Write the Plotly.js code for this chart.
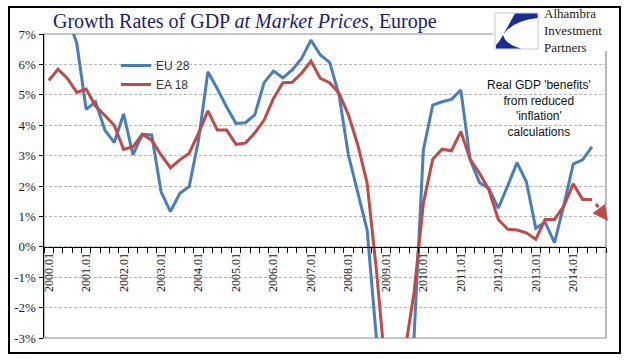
<!DOCTYPE html>
<html>
<head>
<meta charset="utf-8">
<script src="https://cdn.plot.ly/plotly-3.0.1.min.js"></script>
<style>html,body{margin:0;padding:0;background:#fff;}#chart{width:641px;height:361px;}</style>
</head>
<body>
<div id="chart"></div>
<script>
// ---- data (quarterly, 2000.01 .. 2014.04) ----
var years = ["2000","2001","2002","2003","2004","2005","2006","2007","2008","2009","2010","2011","2012","2013","2014"];
var quarters = ["01","02","03","04"];
var eu28 = [8.3, 8.0, 7.6, 6.69, 4.52, 4.77, 3.84, 3.43, 4.37, 3.02,
            3.70, 3.68, 1.81, 1.16, 1.76, 1.98, 3.51, 5.76, 5.2, 4.6,
            4.06, 4.08, 4.34, 5.40, 5.78, 5.56, 5.82, 6.2, 6.80, 6.31,
            6.07, 4.99, 3.02, 1.81, 0.55, -3.05, -6.5, -7.5, -6.0, -3.0,
            3.18, 4.66, 4.77, 4.85, 5.16, 2.86, 2.11, 1.92, 1.27, 2.0,
            2.77, 2.14, 0.61, 0.81, 0.14, 1.37, 2.72, 2.86, 3.29, null];
var ea18 = [5.47, 5.84, 5.54, 5.08, 5.19, 4.63, 4.32, 4.0, 3.2, 3.29,
            3.7, 3.51, 3.02, 2.6, 2.86, 3.08, 3.74, 4.47, 3.84, 3.84,
            3.37, 3.41, 3.74, 4.17, 4.88, 5.40, 5.41, 5.71, 6.11, 5.54,
            5.40, 5.05, 4.34, 3.35, 2.09, -0.8, -4.2, -4.8, -3.5, -1.52,
            1.43, 2.88, 3.21, 3.16, 3.79, 2.88, 2.42, 1.87, 0.90, 0.58,
            0.55, 0.46, 0.25, 0.9, 0.9, 1.34, 2.07, 1.56, 1.56, null];
var yTickVals = [-3, -2, -1, 0, 1, 2, 3, 4, 5, 6, 7];
var yTickText = ["-3%", "-2%", "-1%", "0%", "1%", "2%", "3%", "4%", "5%", "6%", "7%"];
var seriesNames = ["EU 28", "EA 18"];
var noteText = "Real GDP 'benefits'<br>from reduced<br>'inflation'<br>calculations";
var logoLines = ["Alhambra", "Investment", "Partners"];

// ---- build categories ----
var cats = [];
years.forEach(function (y) { quarters.forEach(function (q) { cats.push(y + "." + q); }); });
var xIdx = cats.map(function (c, i) { return i; });
var majorVals = [], majorText = [];
cats.forEach(function (c, i) { if (c.slice(-2) === "01") { majorVals.push(i); majorText.push(c); } });
var minorVals = [];
for (var k = 0; k <= cats.length; k++) minorVals.push(k - 0.5);

// ---- geometry helpers (pixel -> paper) ----
var W = 641, H = 361, L = 44, R = 35, T = 34, B = 23;
var pw = W - L - R, ph = H - T - B;
function PX(px) { return (px - L) / pw; }
function PY(py) { return (H - B - py) / ph; }

var blue = "#4a7ebb", red = "#be4b48";
var serif = "Liberation Serif, Times New Roman, serif";
var sans = "Liberation Sans, Arial, sans-serif";

var traces = [
  {x: xIdx, y: eu28, name: seriesNames[0], type: "scatter", mode: "lines",
   line: {color: blue, width: 3}},
  {x: xIdx, y: ea18, name: seriesNames[1], type: "scatter", mode: "lines",
   line: {color: red, width: 3}}
];

var shapes = [
  // plot-area frame (grey)
  {type: "rect", xref: "paper", yref: "paper", x0: 0, x1: 1, y0: 0, y1: 1,
   line: {color: "#8c8c8c", width: 1.2}, layer: "between"},
  // white area behind the logo
  {type: "rect", xref: "paper", yref: "paper", x0: PX(493), x1: PX(619), y0: PY(51), y1: PY(8.5),
   fillcolor: "#ffffff", line: {width: 0}, layer: "above"},
  // logo box
  {type: "rect", xref: "paper", yref: "paper", x0: PX(495), x1: PX(538), y0: PY(49), y1: PY(13),
   fillcolor: "#ffffff", line: {color: "#c8c8c8", width: 1}, layer: "above"},
  {type: "path", xref: "paper", yref: "paper", layer: "above", fillcolor: "#1b2a96", line: {width: 0},
   path: "M " + PX(515) + "," + PY(13.5) + " L " + PX(537.5) + "," + PY(13.5) + " L " + PX(537.5) + "," + PY(18) +
         " Q " + PX(512) + "," + PY(21) + " " + PX(503) + "," + PY(35) + " Z"},
  {type: "path", xref: "paper", yref: "paper", layer: "above", fillcolor: "#1b2a96", line: {width: 0},
   path: "M " + PX(503) + "," + PY(35) + " Q " + PX(506) + "," + PY(45) + " " + PX(521) + "," + PY(48.5) +
         " L " + PX(496) + "," + PY(48.5) + " L " + PX(496) + "," + PY(45) + " Q " + PX(500) + "," + PY(41) + " " + PX(503) + "," + PY(35) + " Z"},
  // dashed continuation arrow (drawn on chart)
  {type: "line", xref: "paper", yref: "paper", x0: PX(596), y0: PY(204), x1: PX(604), y1: PY(215),
   line: {color: red, width: 3, dash: "4px,3px"}, layer: "above"},
  // outer frame (black)
  {type: "rect", xref: "paper", yref: "paper", x0: PX(9), x1: PX(620), y0: PY(353), y1: PY(7),
   line: {color: "#000000", width: 2}, layer: "above"}
];

var annotations = [
  {xref: "paper", yref: "paper", x: PX(539), y: PY(108), text: noteText, showarrow: false,
   font: {family: sans, size: 12, color: "#111111"}, align: "center", xanchor: "center", yanchor: "middle"},
  {xref: "paper", yref: "paper", x: PX(608), y: PY(221), ax: -6, ay: -8, text: "", showarrow: true,
   arrowhead: 2, arrowsize: 1.4, arrowwidth: 2.2, arrowcolor: red, standoff: 0},
  {xref: "paper", yref: "paper", x: PX(542), y: PY(31), text: logoLines.join("<br>"), showarrow: false,
   xanchor: "left", yanchor: "middle", align: "left", font: {family: serif, size: 13, color: "#222222"}}
];

var layout = {
  width: W, height: H,
  margin: {l: L, r: R, t: T, b: B, pad: 0},
  paper_bgcolor: "#ffffff", plot_bgcolor: "#ffffff",
  title: {text: "Growth Rates of GDP <i>at Market Prices</i>, Europe",
          x: 53 / W, xanchor: "left", xref: "container",
          y: 1 - 21 / H, yanchor: "middle", yref: "container",
          font: {family: serif, size: 20, color: "#1d1d6e"}},
  showlegend: true,
  legend: {x: PX(116), y: PY(51), xanchor: "left", yanchor: "top", bgcolor: "rgba(0,0,0,0)",
           font: {family: sans, size: 12, color: "#333333"}, tracegroupgap: 0, itemwidth: 30},
  xaxis: {range: [-0.5, cats.length - 0.5], anchor: "free", position: 3 / 10,
          showline: true, linecolor: "#000000", linewidth: 1.5,
          tickmode: "array", tickvals: majorVals, ticktext: majorText, ticks: "", tickangle: -90,
          tickfont: {family: serif, size: 12, color: "#222222"},
          minor: {tickmode: "array", tickvals: minorVals, ticks: "outside", ticklen: 5, tickwidth: 1, tickcolor: "#000000", showgrid: false},
          showgrid: false, zeroline: false, fixedrange: true},
  yaxis: {range: [-3, 7], tickmode: "array", tickvals: yTickVals, ticktext: yTickText,
          ticks: "outside", ticklen: 4, tickwidth: 1, tickcolor: "#000000",
          showline: true, linecolor: "#000000", linewidth: 1.5,
          showgrid: true, gridcolor: "#b8b8b8", gridwidth: 1, griddash: "3px,2px",
          zeroline: false, tickfont: {family: serif, size: 13, color: "#222222"}, fixedrange: true},
  shapes: shapes,
  annotations: annotations
};

Plotly.newPlot("chart", traces, layout, {staticPlot: true, displayModeBar: false});
</script>
</body>
</html>
